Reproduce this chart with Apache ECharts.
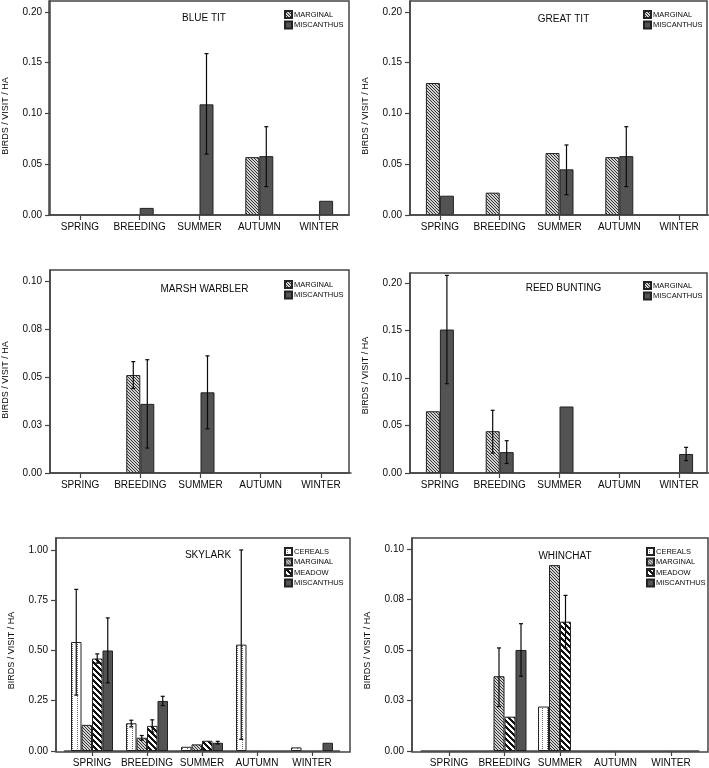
<!DOCTYPE html>
<html>
<head>
<meta charset="utf-8">
<script src="https://cdn.jsdelivr.net/npm/echarts@6/dist/echarts.min.js"></script>
<style>
  html, body { margin: 0; padding: 0; background: #fff; }
  #chart { width: 709px; height: 768px; }
</style>
</head>
<body>
<div id="chart"></div>
<script>
// ---------------- DATA ----------------
const seasons = ['SPRING', 'BREEDING', 'SUMMER', 'AUTUMN', 'WINTER'];
const yTitle = 'BIRDS / VISIT / HA';

// tick values and labels
const ticksSmall = [0, 0.05, 0.10, 0.15, 0.20];
const ticksSmallLabels = ['0.00', '0.05', '0.10', '0.15', '0.20'];
const ticksQuarter = [0, 0.025, 0.05, 0.075, 0.10];
const ticksQuarterLabels = ['0.00', '0.03', '0.05', '0.08', '0.10'];
const ticksSkylark = [0, 0.25, 0.50, 0.75, 1.00];
const ticksSkylarkLabels = ['0.00', '0.25', '0.50', '0.75', '1.00'];

// BLUE TIT
const blueTitMarginal = [0, 0, 0, 0.057, 0];
const blueTitMiscanthus = [0, 0.007, 0.109, 0.058, 0.014];
const blueTitMiscanthusErr = [null, null, [0.060, 0.159], [0.028, 0.087], null];

// GREAT TIT
const greatTitMarginal = [0.130, 0.022, 0.061, 0.057, 0];
const greatTitMiscanthus = [0.019, 0, 0.045, 0.058, 0];
const greatTitMiscanthusErr = [null, null, [0.020, 0.069], [0.028, 0.087], null];

// MARSH WARBLER
const marshWarblerMarginal = [0, 0.051, 0, 0, 0];
const marshWarblerMarginalErr = [null, [0.044, 0.058], null, null, null];
const marshWarblerMiscanthus = [0, 0.036, 0.042, 0, 0];
const marshWarblerMiscanthusErr = [null, [0.013, 0.059], [0.023, 0.061], null, null];

// REED BUNTING
const reedBuntingMarginal = [0.065, 0.044, 0, 0, 0];
const reedBuntingMarginalErr = [null, [0.021, 0.066], null, null, null];
const reedBuntingMiscanthus = [0.151, 0.022, 0.070, 0, 0.020];
const reedBuntingMiscanthusErr = [[0.094, 0.208], [0.010, 0.034], null, null, [0.013, 0.027]];

// SKYLARK
const skylarkCereals = [0.542, 0.138, 0.021, 0.529, 0.018];
const skylarkCerealsErr = [[0.278, 0.804], [0.120, 0.153], null, [0.058, 1.000], null];
const skylarkMarginal = [0.130, 0.066, 0.033, 0, 0];
const skylarkMarginalErr = [null, [0.054, 0.077], null, null, null];
const skylarkMeadow = [0.460, 0.125, 0.051, 0, 0];
const skylarkMeadowErr = [[0.437, 0.483], [0.094, 0.155], null, null, null];
const skylarkMiscanthus = [0.500, 0.249, 0.041, 0, 0.041];
const skylarkMiscanthusErr = [[0.339, 0.662], [0.226, 0.272], [0.035, 0.048], null, null];

// WHINCHAT
const whinchatCereals = [0, 0, 0.022, 0, 0];
const whinchatMarginal = [0, 0.037, 0.092, 0, 0];
const whinchatMarginalErr = [null, [0.022, 0.051], null, null, null];
const whinchatMeadow = [0, 0.017, 0.064, 0, 0];
const whinchatMeadowErr = [null, null, [0.051, 0.077], null, null];
const whinchatMiscanthus = [0, 0.050, 0, 0, 0];
const whinchatMiscanthusErr = [null, [0.037, 0.063], null, null, null];

// ---------------- STYLE ----------------
const FONT = '"Liberation Sans", Arial, Helvetica, sans-serif';
const INK = '#0a0a0a';
const FRAME = '#444';

function makePattern(w, h, paint) {
  const c = document.createElement('canvas');
  c.width = w; c.height = h;
  const ctx = c.getContext('2d');
  paint(ctx, w, h);
  return { image: c, repeat: 'repeat' };
}
const fills = {
  CEREALS: makePattern(5, 2, (ctx) => {
    ctx.fillStyle = '#ffffff'; ctx.fillRect(0, 0, 5, 2);
    ctx.fillStyle = '#6a6a6a'; ctx.fillRect(2, 0, 1, 1);
  }),
  MARGINAL: makePattern(3, 3, (ctx) => {
    ctx.fillStyle = '#d2d2d2'; ctx.fillRect(0, 0, 3, 3);
    ctx.fillStyle = '#333333';
    for (let i = 0; i < 3; i++) ctx.fillRect(i, i, 1, 1);
  }),
  MEADOW: makePattern(6, 6, (ctx) => {
    ctx.fillStyle = '#ffffff'; ctx.fillRect(0, 0, 6, 6);
    ctx.fillStyle = '#111111';
    for (let x = 0; x < 6; x++) for (let y = 0; y < 6; y++) {
      if (((x - y) % 6 + 6) % 6 < 3) ctx.fillRect(x, y, 1, 1);
    }
  }),
  MISCANTHUS: '#535353'
};

// ---------------- PANELS ----------------
const panels = [
  { title: 'BLUE TIT', frame: [49, 1, 300, 214], grid: [49, 1, 300, 214], yMax: 0.2108,
    ticks: ticksSmall, tickLabels: ticksSmallLabels, barWidth: 14, titleY: 8, legend: [284, 10], namePad: 16,
    series: [
      { name: 'MARGINAL', values: blueTitMarginal, err: null },
      { name: 'MISCANTHUS', values: blueTitMiscanthus, err: blueTitMiscanthusErr }] },
  { title: 'GREAT TIT', frame: [410, 1, 297, 214], grid: [410, 1, 299, 214], yMax: 0.2108,
    ticks: ticksSmall, tickLabels: ticksSmallLabels, barWidth: 14, titleY: 9, legend: [643, 10], namePad: 16,
    series: [
      { name: 'MARGINAL', values: greatTitMarginal, err: null },
      { name: 'MISCANTHUS', values: greatTitMiscanthus, err: greatTitMiscanthusErr }] },
  { title: 'MARSH WARBLER', frame: [50, 270, 299, 203], grid: [50, 270, 301, 203], yMax: 0.1057,
    ticks: ticksQuarter, tickLabels: ticksQuarterLabels, barWidth: 14, titleY: 279, legend: [284, 280], namePad: 17,
    series: [
      { name: 'MARGINAL', values: marshWarblerMarginal, err: marshWarblerMarginalErr },
      { name: 'MISCANTHUS', values: marshWarblerMiscanthus, err: marshWarblerMiscanthusErr }] },
  { title: 'REED BUNTING', frame: [410, 273, 297, 200], grid: [410, 273, 299, 200], yMax: 0.2105,
    ticks: ticksSmall, tickLabels: ticksSmallLabels, barWidth: 14, titleY: 278, legend: [643, 281], namePad: 5,
    series: [
      { name: 'MARGINAL', values: reedBuntingMarginal, err: reedBuntingMarginalErr },
      { name: 'MISCANTHUS', values: reedBuntingMiscanthus, err: reedBuntingMiscanthusErr }] },
  { title: 'SKYLARK', frame: [56, 538, 294, 214], grid: [64.5, 538, 275, 214], yMax: 1.0594,
    ticks: ticksSkylark, tickLabels: ticksSkylarkLabels, barWidth: 10.5, titleY: 545, legend: [284, 547], namePad: 12,
    series: [
      { name: 'CEREALS', values: skylarkCereals, err: skylarkCerealsErr },
      { name: 'MARGINAL', values: skylarkMarginal, err: skylarkMarginalErr },
      { name: 'MEADOW', values: skylarkMeadow, err: skylarkMeadowErr },
      { name: 'MISCANTHUS', values: skylarkMiscanthus, err: skylarkMiscanthusErr }] },
  { title: 'WHINCHAT', frame: [412, 538, 296, 214], grid: [421.25, 538, 277.5, 214], yMax: 0.1054,
    ticks: ticksQuarter, tickLabels: ticksQuarterLabels, barWidth: 11, titleY: 546, legend: [646, 547], namePad: 12,
    series: [
      { name: 'CEREALS', values: whinchatCereals, err: null },
      { name: 'MARGINAL', values: whinchatMarginal, err: whinchatMarginalErr },
      { name: 'MEADOW', values: whinchatMeadow, err: whinchatMeadowErr },
      { name: 'MISCANTHUS', values: whinchatMiscanthus, err: whinchatMiscanthusErr }] }
];

function makeErrRender(offset) {
  return function (params, api) {
    const k = api.value(0), lo = api.value(1), hi = api.value(2);
    const pTop = api.coord([k, hi]);
    const pBot = api.coord([k, lo]);
    const x = pTop[0] + offset;
    const st = { stroke: INK, lineWidth: 1.2 };
    return {
      type: 'group',
      children: [
        { type: 'line', shape: { x1: x, y1: pTop[1], x2: x, y2: pBot[1] }, style: st },
        { type: 'line', shape: { x1: x - 2, y1: pTop[1], x2: x + 2, y2: pTop[1] }, style: st },
        { type: 'line', shape: { x1: x - 2, y1: pBot[1], x2: x + 2, y2: pBot[1] }, style: st }
      ]
    };
  };
}

const option = {
  animation: false,
  backgroundColor: '#fff',
  textStyle: { fontFamily: FONT },
  title: [], legend: [], grid: [], xAxis: [], yAxis: [], series: [], graphic: []
};

panels.forEach((p, i) => {
  const [gl, gt, gw, gh] = p.grid;
  const [fl, ft, fw, fh] = p.frame;
  option.grid.push({ left: gl, top: gt, width: gw, height: gh, containLabel: false });
  option.title.push({
    text: p.title, left: fl + fw / 2, top: p.titleY, textAlign: 'center',
    textStyle: { fontSize: 10, fontWeight: 'normal', color: INK, fontFamily: FONT }
  });
  option.legend.push({
    data: p.series.map(s => s.name), left: p.legend[0], top: p.legend[1], orient: 'vertical',
    itemWidth: 7, itemHeight: 7, itemGap: 1.5, padding: 0, icon: 'rect', selectedMode: false,
    textStyle: { fontSize: 7.5, color: INK, fontFamily: FONT, padding: [0, 0, 0, -3] }
  });
  option.xAxis.push({
    type: 'category', gridIndex: i, data: seasons,
    axisLine: { show: true, lineStyle: { color: FRAME, width: 1.5 } },
    axisTick: { show: true, alignWithLabel: true, interval: 0, length: 5, lineStyle: { color: FRAME, width: 1.2 } },
    axisLabel: { interval: 0, fontSize: 10, color: INK, margin: 7, fontFamily: FONT },
    splitLine: { show: false }
  });
  option.yAxis.push({
    type: 'value', gridIndex: i, min: 0, max: p.yMax, offset: gl - fl,
    name: yTitle, nameLocation: 'middle', nameGap: 40,
    nameTextStyle: { fontSize: 9, color: INK, fontFamily: FONT, padding: [0, p.namePad, 0, 0] },
    axisLine: { show: true, lineStyle: { color: FRAME, width: 1.5 } },
    axisTick: { show: true, length: 5, customValues: p.ticks, lineStyle: { color: FRAME, width: 1.2 } },
    axisLabel: {
      fontSize: 10, color: INK, margin: 8, fontFamily: FONT, customValues: p.ticks,
      formatter: (v) => {
        let best = 0;
        p.ticks.forEach((t, j) => { if (Math.abs(t - v) < Math.abs(p.ticks[best] - v)) best = j; });
        return p.tickLabels[best];
      }
    },
    splitLine: { show: false }
  });
  const n = p.series.length;
  p.series.forEach((s, j) => {
    option.series.push({
      type: 'bar', name: s.name, xAxisIndex: i, yAxisIndex: i,
      barWidth: p.barWidth, barGap: '0%',
      data: s.values.map(v => (v === 0 ? null : v)),
      itemStyle: { color: fills[s.name], borderColor: '#222', borderWidth: 1 },
      emphasis: { disabled: true }, z: 2
    });
  });
  p.series.forEach((s, j) => {
    if (!s.err) return;
    const offset = (j - (n - 1) / 2) * p.barWidth;
    const data = [];
    s.err.forEach((e, k) => { if (e) data.push([k, e[0], e[1]]); });
    option.series.push({
      type: 'custom', xAxisIndex: i, yAxisIndex: i, silent: true, z: 5,
      renderItem: makeErrRender(offset),
      encode: { x: 0, y: [1, 2] },
      data: data
    });
  });
  option.graphic.push({
    type: 'rect', silent: true, z: 100,
    shape: { x: fl, y: ft, width: fw, height: fh },
    style: { fill: 'none', stroke: FRAME, lineWidth: 1.5 }
  });
});

const chart = echarts.init(document.getElementById('chart'), null, { renderer: 'canvas' });
chart.setOption(option);
</script>
</body>
</html>
